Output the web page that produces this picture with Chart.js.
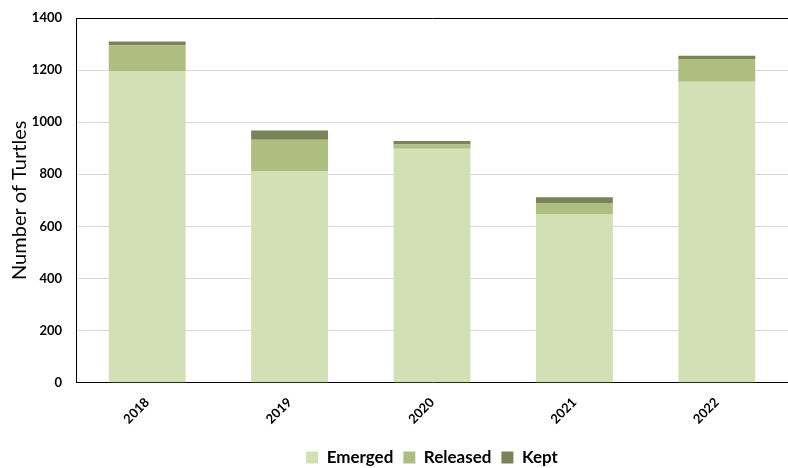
<!DOCTYPE html>
<html>
<head>
<meta charset="utf-8">
<script src="https://cdn.jsdelivr.net/npm/chart.js@4"></script>
<style>
  body { margin: 0; background: #fff; }
  #wrap { width: 788px; height: 468px; }
</style>
</head>
<body>
<div id="wrap"><canvas id="turtleChart" width="788" height="468"></canvas></div>
<script>
// data
const years = ["2018", "2019", "2020", "2021", "2022"];
const emerged = [1195, 813, 898, 646, 1155];
const released = [100, 120, 17, 44, 88];
const kept = [15, 35, 13, 22, 12];
const yTicks = [0, 200, 400, 600, 800, 1000, 1200, 1400];

const fontFam = "Lato, 'Open Sans', sans-serif";

const barData = {
  labels: years,
  datasets: [
    { label: "Emerged", data: emerged, backgroundColor: "#D3DFB4" },
    { label: "Released", data: released, backgroundColor: "#AFBD80" },
    { label: "Kept", data: kept, backgroundColor: "#7A8358" },
  ],
};

const config = {
  type: "bar",
  data: barData,
  options: {
    responsive: false,
    animation: false,
    layout: { padding: { top: 18, right: 0, left: 0, bottom: -8 } },
    datasets: {
      bar: { categoryPercentage: 1, barPercentage: 0.54, borderWidth: 0 },
    },
    plugins: {
      tooltip: { enabled: false },
      legend: {
        position: "bottom",
        fullSize: false,
        labels: {
          color: "#000",
          boxWidth: 12,
          boxHeight: 12,
          padding: 10,
          font: { family: fontFam, size: 17, weight: "bold" },
        },
      },
    },
    scales: {
      x: {
        stacked: true,
        grid: { display: false, drawTicks: false },
        border: { color: "#000", width: 1 },
        ticks: {
          color: "#000",
          maxRotation: 45,
          minRotation: 45,
          padding: 12,
          font: { family: fontFam, size: 13, weight: "bold" },
        },
      },
      y: {
        stacked: true,
        min: 0,
        max: 1400,
        afterBuildTicks: (axis) => {
          axis.ticks = yTicks.map((v) => ({ value: v }));
        },
        afterFit: (axis) => {
          axis.width = 76;
          axis.paddingTop = 0;
        },
        grid: {
          drawTicks: false,
          color: (ctx) => (ctx.tick && ctx.tick.value === 1400 ? "#000" : "#d9d9d9"),
          lineWidth: 1,
        },
        border: { color: "#000", width: 1 },
        title: {
          display: true,
          text: "Number of Turtles",
          color: "#000",
          padding: { top: 8, bottom: 0 },
          font: { family: fontFam, size: 20 },
        },
        ticks: {
          color: "#000",
          padding: 14,
          callback: (v) => String(v),
          font: { family: fontFam, size: 13, weight: "bold" },
        },
      },
    },
  },
};

const turtleChart = new Chart(document.getElementById("turtleChart"), config);
</script>
</body>
</html>
